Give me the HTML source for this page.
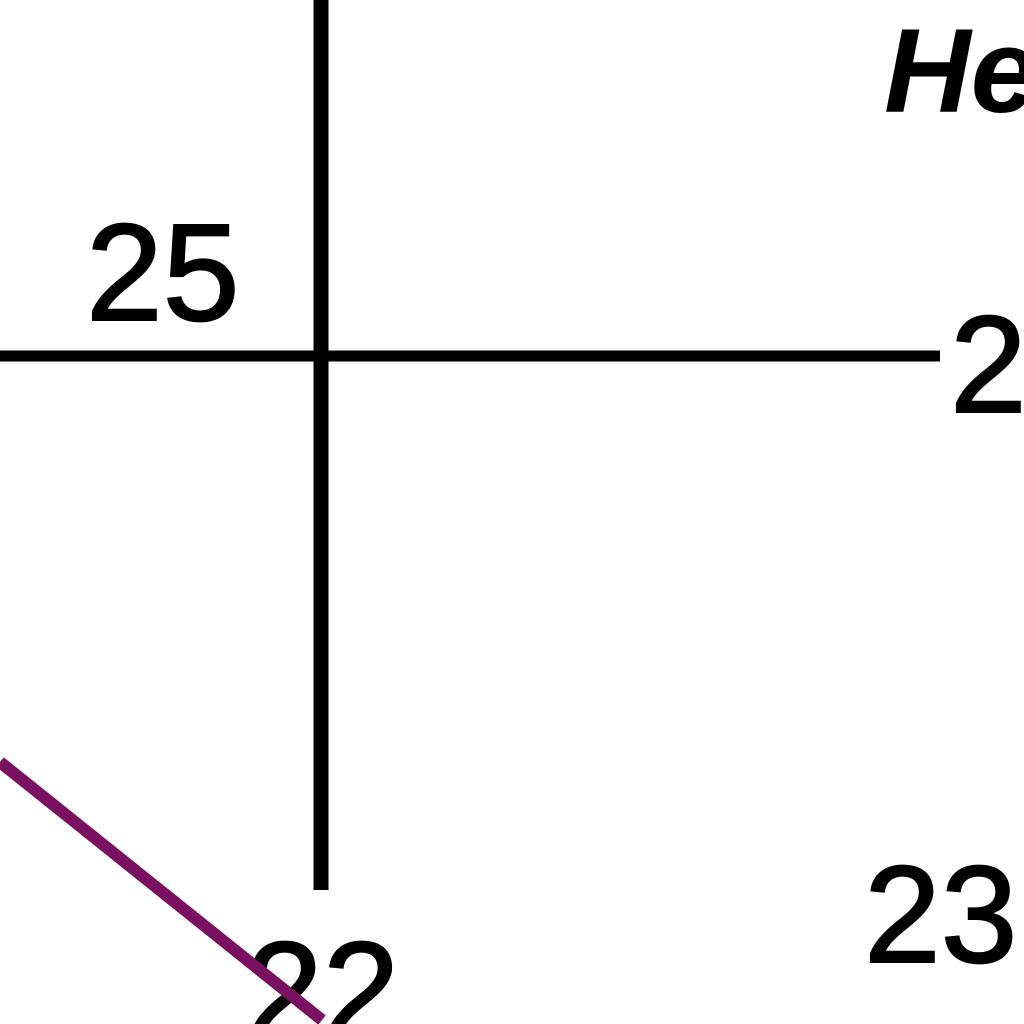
<!DOCTYPE html>
<html><head><meta charset="utf-8"><style>
html,body{margin:0;padding:0;background:#fff;width:1024px;height:1024px;overflow:hidden}
svg{display:block;overflow:hidden}
text{font-family:"Liberation Sans",sans-serif;fill:#000}
</style></head><body>
<svg id="chart" width="1024" height="1024" viewBox="0 0 1024 1024">
  <line x1="321" y1="0" x2="321" y2="890" stroke="#000" stroke-width="15"/>
  <line x1="0" y1="356" x2="940" y2="356" stroke="#000" stroke-width="11"/>
  <text x="86" y="320" font-size="138" stroke="#000" stroke-width="2">25</text>
  <text x="950" y="412" font-size="138" stroke="#000" stroke-width="2">2</text>
  <text x="864" y="962" font-size="138" stroke="#000" stroke-width="2">23</text>
  <text x="246" y="1038" font-size="138" stroke="#000" stroke-width="2">22</text>
  <text x="884" y="112" font-size="120" font-style="italic" font-weight="bold">He</text>
  <g id="series"></g>
</svg>
<script>
const xValues = [0, 1];
const yValues = [0, 1];
function xScale(v){ return 0 + v * 322; }
function yScale(v){ return 762 + v * 258; }
const g = document.getElementById('series');
const pts = xValues.map((x,i)=>xScale(x)+','+yScale(yValues[i])).join(' ');
const pl = document.createElementNS('http://www.w3.org/2000/svg','polyline');
pl.setAttribute('points', pts);
pl.setAttribute('fill','none');
pl.setAttribute('stroke','#7a1060');
pl.setAttribute('stroke-width','12');


g.appendChild(pl);
</script>
</body></html>
